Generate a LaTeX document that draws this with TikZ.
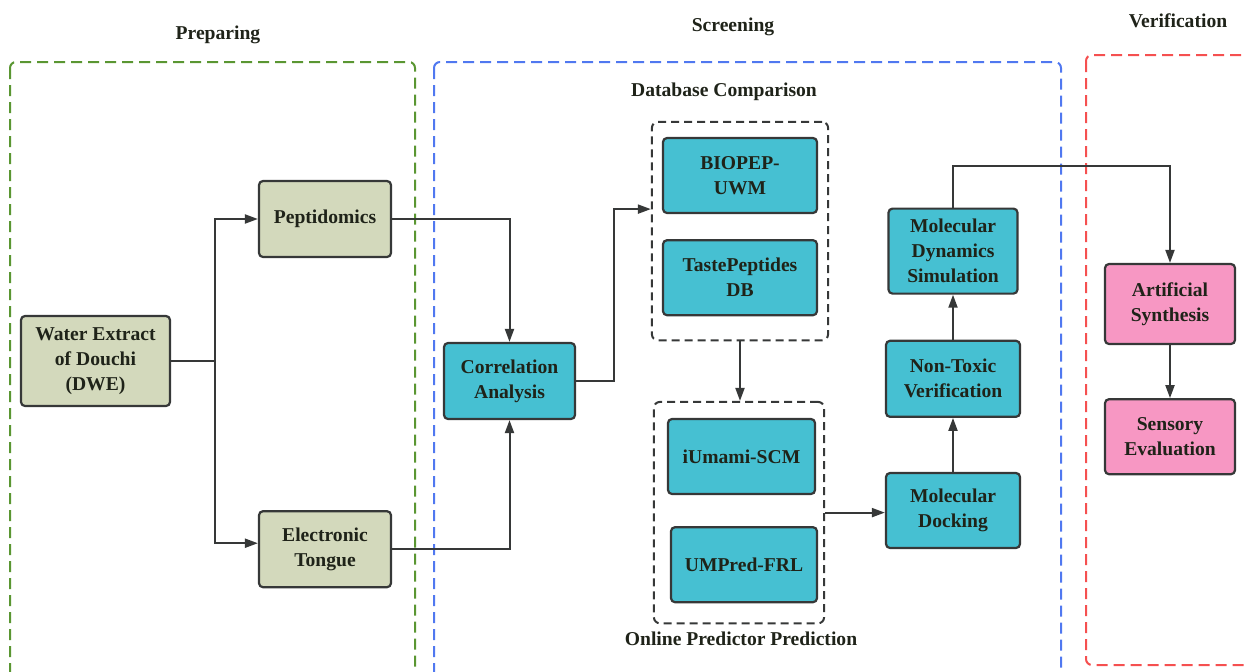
\documentclass[tikz,border=0pt]{standalone}
\usepackage{fontspec}
\setmainfont{Liberation Serif}
\usetikzlibrary{positioning,fit,arrows.meta}

\definecolor{prepfill}{HTML}{D3D9BC}
\definecolor{screenfill}{HTML}{46C0D2}
\definecolor{verfill}{HTML}{F797C3}
\definecolor{boxline}{HTML}{363838}
\definecolor{txtdark}{HTML}{1F2319}
\definecolor{prepgreen}{HTML}{5A9632}
\definecolor{screenblue}{HTML}{5078F0}
\definecolor{verred}{HTML}{F55050}

\newcommand{\boxfont}{\fontsize{9.8pt}{12.5pt}\selectfont\bfseries}

\tikzset{
    box/.style={draw=boxline, line width=1.1pt, rounded corners=2pt, align=center,
        font=\boxfont, text=txtdark, inner sep=2pt},
    prepbox/.style={box, fill=prepfill, minimum width=66pt, minimum height=38pt},
    screenbox/.style={box, fill=screenfill, minimum width=67pt, minimum height=37.5pt},
    verbox/.style={box, fill=verfill, minimum width=65pt, minimum height=37.5pt},
    title/.style={font=\boxfont, text=txtdark, inner sep=0pt},
    frame/.style={line width=1pt, dash pattern=on 5.5pt off 3pt, rounded corners=3pt},
    group/.style={draw=boxline, line width=1pt, dash pattern=on 4pt off 2.5pt,
        rounded corners=3pt},
    flow/.style={draw=boxline, line width=1pt, -{Triangle[length=6.5pt,width=4.5pt]}},
}

\begin{document}
\begin{tikzpicture}[x=0.5pt,y=-0.5pt]
    \path[use as bounding box, clip] (0,0) rectangle (1244,671);

    % stage frames
    \draw[frame, draw=prepgreen] (10,62) rectangle (415,720);
    \draw[frame, draw=screenblue] (434,62) rectangle (1061,720);
    \draw[frame, draw=verred] (1086,55) rectangle (1300,665);

    \node[title] (preptitle) at (218,35) {Preparing};
    \node[title] (screentitle) at (733,27) {Screening};
    \node[title] (vertitle) at (1178,21) {Verification};

    % preparing
    \node[prepbox, minimum width=74.5pt, minimum height=45pt] (dwe) at (95.5,361)
        {Water Extract\\of Douchi\\(DWE)};
    \node[prepbox] (pept) at (325,219) {Peptidomics};
    \node[prepbox, below=126pt of pept] (elec) {Electronic\\Tongue};

    % screening
    \node[screenbox, minimum width=65.5pt, minimum height=38pt] (corr) at (509.5,381)
        {Correlation\\Analysis};
    \node[screenbox, minimum width=77pt] (biopep) at (740,175.5) {BIOPEP-\\UWM};
    \node[screenbox, minimum width=77pt, below=12.5pt of biopep] (tastedb)
        {TastePeptides\\DB};
    \node[screenbox, minimum width=73.5pt] (iumami) at (741.5,456.5) {iUmami-SCM};
    \node[screenbox, minimum width=73pt, below=15.5pt of iumami, xshift=1.25pt] (umpred)
        {UMPred-FRL};
    \node[screenbox] (dock) at (953,510.5) {Molecular\\Docking};
    \node[screenbox, minimum height=38pt, above=27pt of dock] (nontox)
        {Non-Toxic\\Verification};
    \node[screenbox, minimum width=64.5pt, minimum height=42.5pt, above=22.5pt of nontox]
        (mds) {Molecular\\Dynamics\\Simulation};

    \node[group, fit=(biopep)(tastedb), inner xsep=5pt, inner ysep=9.75pt,
        yshift=-2.25pt] (dbgroup) {};
    \node[group, fit=(iumami)(umpred), inner xsep=4.75pt, inner ysep=9pt,
        xshift=-1.75pt, yshift=-1pt] (onlgroup) {};
    \node[title] (dbtitle) at (724,92) {Database Comparison};
    \node[title] (onltitle) at (741,639) {Online Predictor Prediction};

    % verification
    \node[verbox, minimum height=40pt] (art) at (1170,304) {Artificial\\Synthesis};
    \node[verbox, below=26.5pt of art] (sens) {Sensory\\Evaluation};

    % connectors
    \draw[flow] (dwe.east) -- ++(22pt,0) coordinate (split) |- (pept.west);
    \draw[flow] (split) |- ([yshift=3pt]elec.west);
    \draw[flow] (pept.east) -| (corr.north);
    \draw[flow] (elec.east) -| (corr.south);
    \draw[flow] (corr.east) -- ++(19pt,0) |- ([yshift=11pt]dbgroup.west);
    \draw[flow] (dbgroup.south) -- (dbgroup.south |- onlgroup.north);
    \draw[flow] (onlgroup.east) -- (onlgroup.east -| dock.west);
    \draw[flow] (dock.north) -- (nontox.south);
    \draw[flow] (nontox.north) -- (mds.south);
    \draw[flow] (mds.north) -- ++(0,21pt) -| (art.north);
    \draw[flow] (art.south) -- (sens.north);
\end{tikzpicture}
\end{document}
